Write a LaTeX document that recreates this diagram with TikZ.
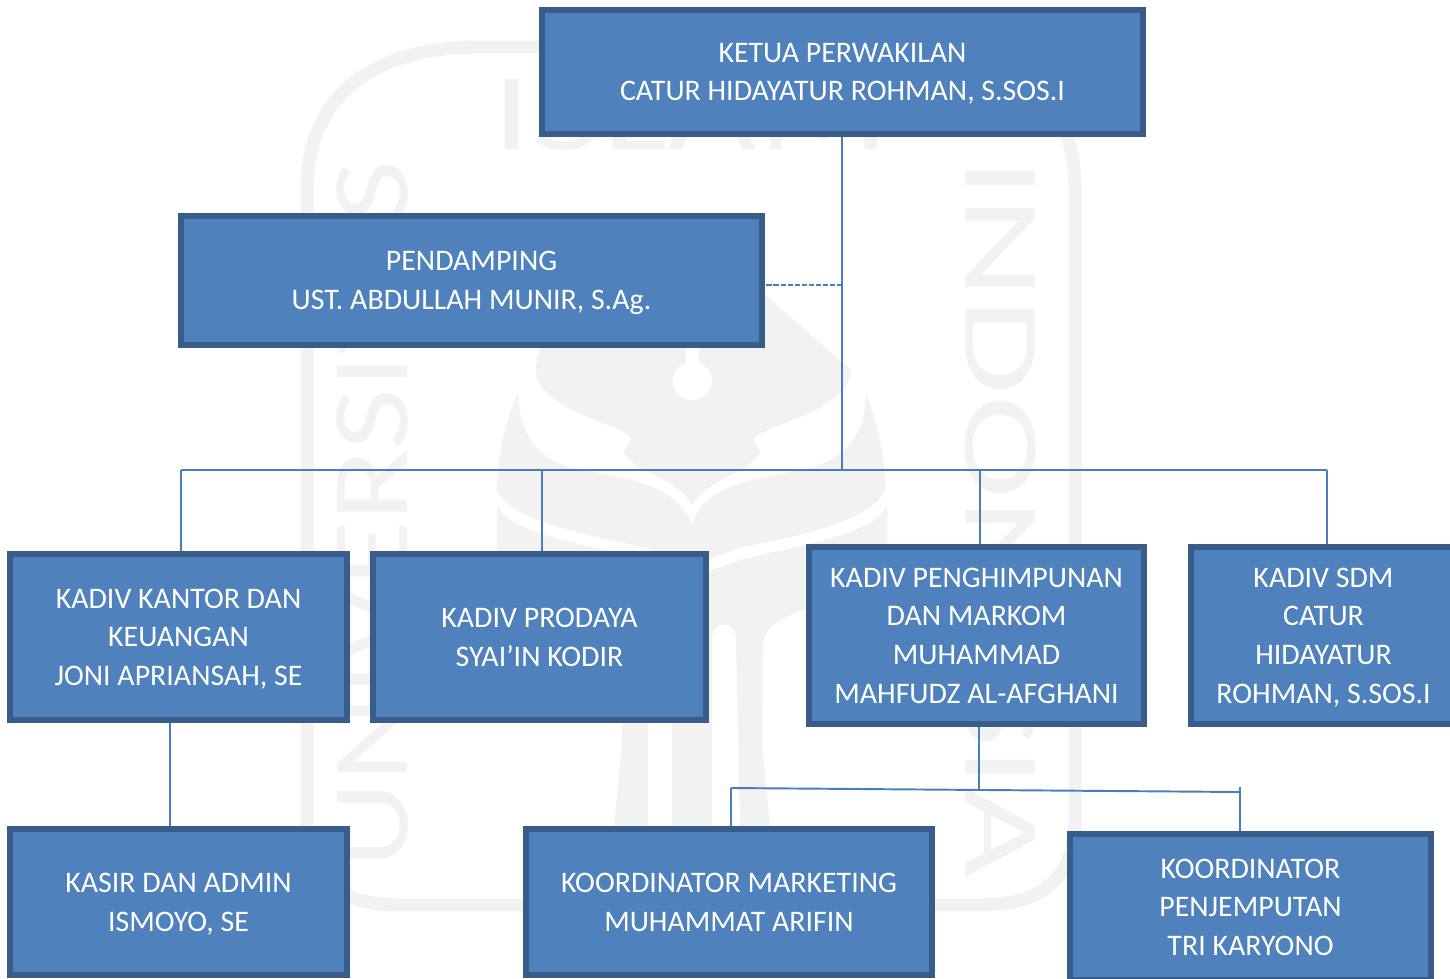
\documentclass[tikz,border=0pt]{standalone}
\usepackage{graphicx}
\usepackage{fontspec}
\setmainfont{Carlito}
\definecolor{boxfill}{HTML}{4F81BD}
\definecolor{boxline}{HTML}{385D8A}
\definecolor{linkline}{HTML}{4A7EBB}
\definecolor{markgray}{HTML}{F2F2F2}
\tikzset{
	orgbox/.style={draw=boxline, fill=boxfill, line width=3.4pt, rectangle, inner sep=0pt, text=white, align=center, text depth=-1.7pt, font=\fontsize{17}{22}\selectfont},
	link/.style={draw=linkline, line width=1.1pt},
	busline/.style={draw=linkline, line width=0.8pt},
	markfill/.style={fill=markgray, draw=none},
	markword/.style={text=markgray, inner sep=0pt, font=\fontsize{62}{62}\selectfont}
}
\begin{document}
\begin{tikzpicture}[x=0.02cm, y=-0.02cm]
	\path[clip, use as bounding box] (0,0) rectangle (1450,978);

	% watermark
	\draw[markgray, line width=7.5pt] (307,820) -- (307,190) .. controls (307,90) and (380,47) .. (480,47) -- (900,47) .. controls (1010,47) and (1075,90) .. (1075,190) -- (1075,820) .. controls (1075,880) and (1040,905) .. (980,905) -- (400,905) .. controls (340,905) and (307,880) .. (307,820) -- cycle;
	\node[markword, rotate=90] (markleft) at (373,515) {\scalebox{1.23}[1]{UNIVERSITAS}};
	\node[markword, rotate=-90] (markright) at (1000,518) {\scalebox{1.44}[1]{INDONESIA}};
	\node[markword] (marktop) at (691,115) {\scalebox{1.42}[1]{ISLAM}};
	\path[markfill] (692,505) .. controls (680,480) and (640,475) .. (625,455) .. controls (622,445) and (632,445) .. (631,438) .. controls (625,425) and (536,410) .. (536,370) .. controls (536,340) and (560,320) .. (600,300) -- (763,293) -- (851,370) .. controls (851,410) and (765,425) .. (754,438) .. controls (752,445) and (762,445) .. (759,455) .. controls (745,475) and (705,480) .. cycle;
	\path[fill=white] (686,340) rectangle (699,365);
	\path[fill=white] (692.5,381) ellipse [x radius=19.5, y radius=19];
	\path[markfill] (518,393) .. controls (520,440) and (540,465) .. (594,472) .. controls (640,480) and (680,490) .. (692,525) .. controls (700,490) and (745,480) .. (790,472) .. controls (840,465) and (866,440) .. (866,393) .. controls (880,430) and (887,470) .. (885,490) .. controls (870,522) and (800,535) .. (740,548) -- (692,565) -- (646,548) .. controls (590,535) and (510,522) .. (497,490) .. controls (497,460) and (505,420) .. (518,393) -- cycle;
	\path[markfill] (497,505) .. controls (510,535) and (590,545) .. (646,560) -- (692,577) -- (740,560) .. controls (800,545) and (875,535) .. (887,505) -- (887,560) -- (807,608) .. controls (780,620) and (763,625) .. (763,650) -- (762,745) -- (770,826) -- (614,826) -- (622,745) -- (622,650) .. controls (622,625) and (600,620) .. (578,608) -- (497,560) -- cycle;
	\path[fill=white] (648,826) -- (648,640) .. controls (648,628) and (655,625) .. (660,625) .. controls (668,625) and (672,630) .. (672,640) -- (672,826) -- cycle;
	\path[fill=white] (712,826) -- (712,640) .. controls (712,630) and (716,625) .. (724,625) .. controls (730,625) and (736,628) .. (736,640) -- (740,826) -- cycle;

	% boxes
	\node[orgbox, minimum width=12.02cm, minimum height=2.48cm] (ketua) at (842.5,72) {KETUA PERWAKILAN\\CATUR HIDAYATUR ROHMAN, S.SOS.I};
	\node[orgbox, minimum width=11.62cm, minimum height=2.58cm] (pendamping) at (471.5,280.5) {PENDAMPING\\UST. ABDULLAH MUNIR, S.Ag.};
	\node[orgbox, minimum width=6.74cm, minimum height=3.32cm] (kantor) at (178.5,637) {KADIV KANTOR DAN\\KEUANGAN\\JONI APRIANSAH, SE};
	\node[orgbox, minimum width=6.66cm, minimum height=3.32cm] (prodaya) at (539.5,637) {KADIV PRODAYA\\SYAI’IN KODIR};
	\node[orgbox, minimum width=6.70cm, minimum height=3.54cm] (penghimpunan) at (976.5,635.5) {KADIV PENGHIMPUNAN\\DAN MARKOM\\MUHAMMAD\\MAHFUDZ AL-AFGHANI};
	\node[orgbox, minimum width=5.30cm, minimum height=3.54cm] (sdm) at (1323.5,635.5) {KADIV SDM\\CATUR\\HIDAYATUR\\ROHMAN, S.SOS.I};
	\node[orgbox, minimum width=6.74cm, minimum height=2.92cm] (kasir) at (178.5,902) {KASIR DAN ADMIN\\ISMOYO, SE};
	\node[orgbox, minimum width=8.12cm, minimum height=2.92cm] (marketing) at (729,902) {KOORDINATOR MARKETING\\MUHAMMAT ARIFIN};
	\node[orgbox, minimum width=7.22cm, minimum height=2.92cm] (jemput) at (1250.5,907) {KOORDINATOR\\PENJEMPUTAN\\TRI KARYONO};

	% top links
	\coordinate (busmain) at (842,470);
	\coordinate (busleft) at (181,470);
	\coordinate (busprodaya) at (542,470);
	\coordinate (buspeng) at (980,470);
	\coordinate (busright) at (1327,470);
	\coordinate (dashend) at (842,285);
	\draw[link] (ketua.south -| busmain) -- (busmain);
	\draw[link, dashed, dash pattern=on 3pt off 1pt] (dashend) -- (dashend -| pendamping.east);
	\draw[busline] (busleft) -- (busright);
	\draw[link] (busleft) -- (busleft |- kantor.north);
	\draw[link] (busprodaya) -- (busprodaya |- prodaya.north);
	\draw[link] (buspeng) -- (buspeng |- penghimpunan.north);
	\draw[link] (busright) -- (busright |- sdm.north);

	% lower links
	\coordinate (kantordrop) at (170,723);
	\coordinate (lowmid) at (979,790);
	\coordinate (lowleft) at (731,788);
	\coordinate (lowright) at (1240,792);
	\coordinate (lowtick) at (1240,787);
	\draw[link] (kantordrop |- kantor.south) -- (kantordrop |- kasir.north);
	\draw[link] (lowmid |- penghimpunan.south) -- (lowmid);
	\draw[link] (lowleft) -- (lowright);
	\draw[link] (lowleft) -- (lowleft |- marketing.north);
	\draw[link] (lowtick) -- (lowtick |- jemput.north);
\end{tikzpicture}
\end{document}
